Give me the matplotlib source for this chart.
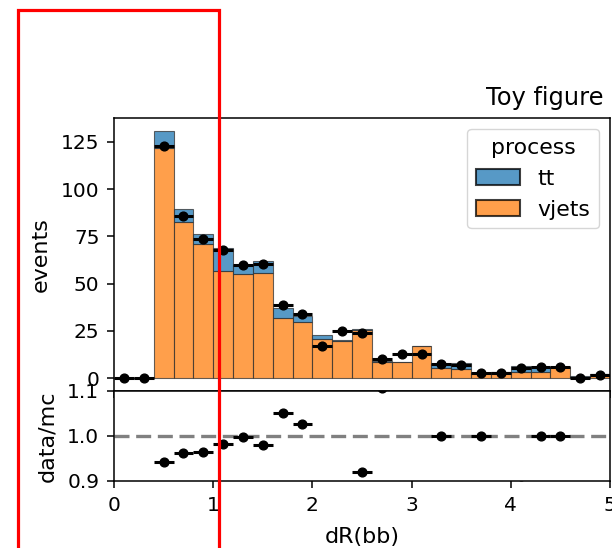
"""Toy stacked dR(bb) histogram with data points and a data/mc ratio panel."""
import matplotlib

matplotlib.use("Agg")
import matplotlib.pyplot as plt
import numpy as np
from matplotlib.patches import Rectangle

# binning: 25 bins of width 0.2 on [0, 5]
bin_edges = np.linspace(0.0, 5.0, 26)
bin_centers = 0.5 * (bin_edges[:-1] + bin_edges[1:])

# stacked mc (vjets at bottom, tt on top)
vjets = [0, 0, 122.0, 82.6, 70.8, 56.7, 54.9, 55.8, 32.0, 30.0,
         20.7, 19.8, 25.3, 8.8, 8.7, 16.9, 5.6, 4.9, 2.8, 3.1,
         3.2, 3.2, 5.7, 0.9, 2.1]
tt = [0, 0, 8.6, 6.9, 5.7, 12.1, 5.2, 6.1, 5.1, 3.1,
      2.3, 0.2, 0.8, 0.25, 0.1, 0.1, 2.2, 3.3, 0.1, 0.2,
      3.1, 2.6, 0.1, 0.1, 0.1]

# observed data per bin
data = [0, 0, 123, 86, 73.8, 67.6, 60, 60.6, 39, 34,
        17, 25, 24, 10, 13, 13, 7.8, 7.2, 2.9, 2.8,
        5.6, 5.8, 5.8, 0, 1.9]

process_names = ["tt", "vjets"]
TT_COLOR = "tab:blue"
VJ_COLOR = "tab:orange"

TICK_FS = 14.5
LABEL_FS = 16
TITLE_FS = 17.4
LEGEND_FS = 15.8

plt.rcParams.update({
    "xtick.major.size": 5, "ytick.major.size": 5,
    "xtick.major.pad": 5.5, "ytick.major.pad": 5.5,
    "xtick.major.width": 1.1, "ytick.major.width": 1.1,
    "axes.linewidth": 1.1,
})

fig = plt.figure(figsize=(6.12, 5.48), dpi=100)
ax = fig.add_axes([0.1863, 0.287, 0.8104, 0.4977])
rax = fig.add_axes([0.1863, 0.1223, 0.8104, 0.1647], sharex=ax)

width = bin_edges[1] - bin_edges[0]
vj = np.array(vjets)
t = np.array(tt)
ax.bar(bin_centers, vj, width=width, color=VJ_COLOR, alpha=0.75,
       edgecolor="#333333", linewidth=0.8, label="vjets")
ax.bar(bin_centers, t, width=width, bottom=vj, color=TT_COLOR, alpha=0.75,
       edgecolor="#333333", linewidth=0.8, label="tt")

ax.errorbar(bin_centers, data, xerr=width / 2, fmt="o", color="black",
            markersize=6.3, elinewidth=2.2, capsize=0)

ax.set_ylim(-6.6, 137.7)
ax.set_ylabel("events", fontsize=LABEL_FS, labelpad=7)
ax.set_yticks([0, 25, 50, 75, 100, 125])
ax.tick_params(labelbottom=False, labelsize=TICK_FS)
ax.set_title("Toy figure", loc="right", x=0.987, pad=9, fontsize=TITLE_FS)

handles, labels = ax.get_legend_handles_labels()
order = [labels.index(n) for n in process_names]
leg = ax.legend([handles[i] for i in order], [labels[i] for i in order],
                title="process", loc="upper right", fontsize=LEGEND_FS,
                title_fontsize=LEGEND_FS)
for h in leg.legend_handles:
    h.set_edgecolor("black")
    h.set_linewidth(1.5)

# ratio panel
mc_total = vj + t
ratio = np.divide(np.array(data, dtype=float), mc_total,
                  out=np.full(len(mc_total), np.nan), where=mc_total > 0)
rax.axhline(1.0, color="gray", linestyle="--", linewidth=2.4, dashes=(4.5, 2))
rax.errorbar(bin_centers, ratio, xerr=width / 2, fmt="o", color="black",
             markersize=6.3, elinewidth=2.2, capsize=0)
rax.set_ylim(0.9, 1.1)
rax.set_yticks([0.9, 1.0, 1.1])
rax.set_xlim(0, 5)
rax.set_xticks([0, 1, 2, 3, 4, 5])
rax.set_ylabel("data/mc", fontsize=LABEL_FS, labelpad=7)
rax.set_xlabel("dR(bb)", fontsize=LABEL_FS, labelpad=9)
rax.tick_params(labelsize=TICK_FS)

# highlight box drawn over the figure
fig.add_artist(Rectangle((17.5 / 612, -0.05), (218.5 - 17.5) / 612,
                         1 - 10.5 / 548 + 0.05, transform=fig.transFigure,
                         fill=False, edgecolor="red", linewidth=2.3,
                         clip_on=False, zorder=10))

fig.savefig("out.png", dpi=100)
